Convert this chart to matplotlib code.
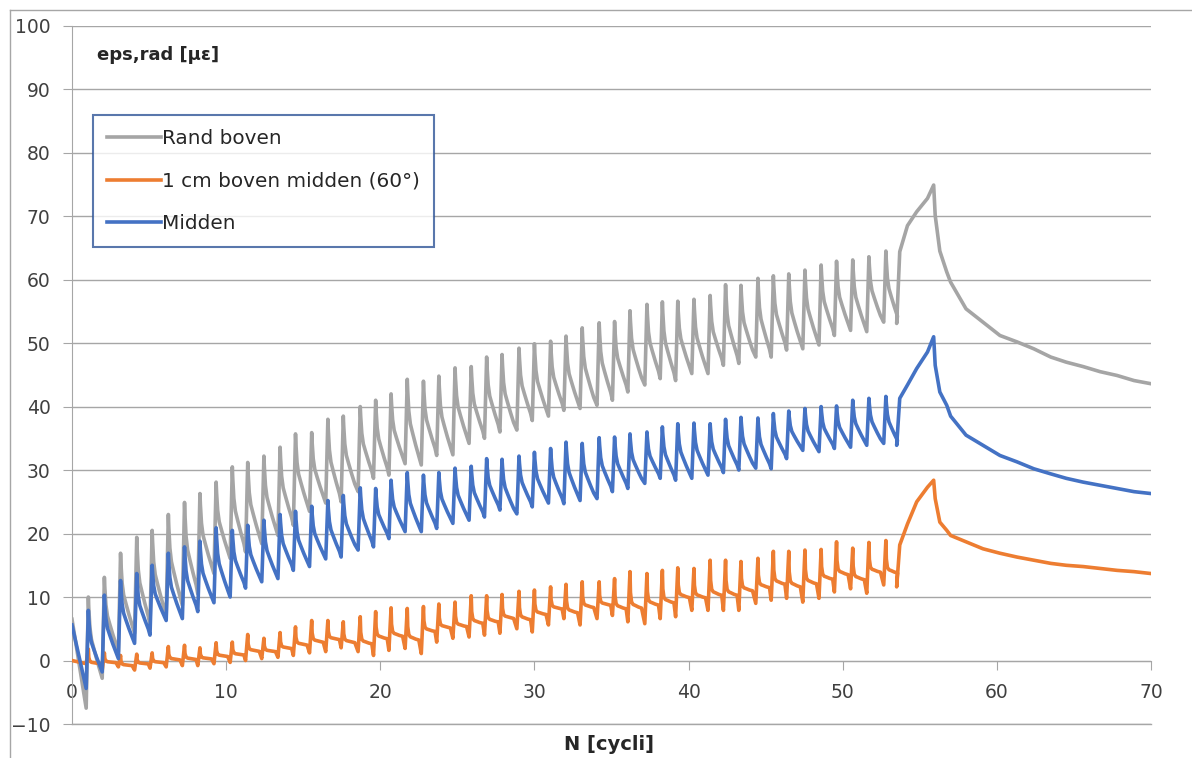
import numpy as np
import matplotlib.pyplot as plt
from matplotlib.lines import Line2D

plt.rcParams['font.family'] = ['DejaVu Sans']

# cycle peaks (load pulses) and the minimum just before each pulse
spike_n = [1.06, 2.1, 3.15, 4.2, 5.2, 6.25, 7.3, 8.3, 9.35, 10.4,
           11.4, 12.45, 13.5, 14.5, 15.55, 16.6, 17.6, 18.7, 19.7, 20.7,
           21.75, 22.8, 23.8, 24.85, 25.9, 26.9, 27.9, 29.0, 30.0, 31.05,
           32.05, 33.1, 34.2, 35.2, 36.2, 37.3, 38.3, 39.3, 40.35, 41.4,
           42.4, 43.4, 44.5, 45.5, 46.5, 47.55, 48.6, 49.6, 50.65, 51.7, 52.8]

rand_peak = [10.0, 13.1, 16.9, 19.4, 20.5, 23.0, 24.9, 26.3, 28.1, 30.5,
             31.2, 32.2, 33.6, 35.7, 35.9, 38.0, 38.5, 40.0, 41.0, 42.0,
             44.3, 44.0, 44.8, 46.1, 46.3, 47.8, 48.2, 49.2, 49.9, 50.3,
             51.1, 52.4, 53.2, 53.4, 55.1, 56.1, 56.5, 56.6, 56.9, 57.5,
             59.2, 59.1, 60.2, 60.6, 60.9, 61.5, 62.3, 62.9, 63.1, 63.6, 64.5]
rand_low = [-7.5, -2.8, 1.4, 4.3, 5.6, 7.1, 8.7, 10.5, 13.7, 16.1,
            17.1, 18.4, 19.7, 21.3, 23.5, 24.8, 25.0, 26.6, 28.7, 29.2,
            31.0, 30.8, 32.3, 32.4, 34.2, 35.0, 36.0, 36.3, 37.8, 38.5,
            39.4, 39.7, 40.2, 41.0, 42.3, 43.4, 44.4, 44.1, 45.2, 45.2,
            46.5, 46.8, 47.8, 47.8, 48.9, 49.1, 49.7, 51.2, 52.0, 51.8, 53.3]

midden_peak = [7.9, 10.3, 12.6, 13.7, 15.0, 16.9, 17.9, 18.8, 20.9, 20.5,
               21.3, 22.1, 23.0, 23.5, 24.3, 25.2, 26.0, 27.2, 27.1, 28.4,
               29.6, 29.2, 29.6, 30.3, 30.6, 31.8, 31.7, 32.2, 32.8, 33.4,
               34.4, 34.2, 35.1, 35.2, 35.7, 36.0, 36.8, 37.3, 37.4, 37.3,
               38.0, 38.3, 38.2, 38.9, 39.3, 39.7, 40.0, 40.1, 41.0, 41.3, 41.6]
midden_low = [-4.4, -1.8, 0.3, 2.7, 4.0, 6.3, 6.6, 7.7, 9.1, 10.0,
              11.4, 12.4, 12.9, 14.2, 14.8, 16.0, 16.3, 17.4, 17.9, 19.2,
              20.3, 20.3, 20.8, 21.6, 22.1, 22.6, 23.7, 23.1, 24.2, 24.8,
              24.7, 25.2, 25.5, 26.6, 27.1, 27.9, 28.7, 28.4, 28.7, 29.2,
              29.6, 30.0, 30.3, 30.2, 31.8, 33.1, 32.9, 33.4, 33.6, 33.9, 34.2]

cm1_peak = [1.8, 1.2, 0.8, 1.0, 1.2, 2.2, 2.4, 2.0, 2.8, 2.9,
            4.1, 3.5, 4.4, 5.3, 6.3, 6.3, 6.1, 6.9, 7.7, 8.3,
            8.2, 8.5, 8.9, 9.2, 10.2, 10.2, 10.4, 10.9, 11.1, 11.6,
            12.0, 12.4, 12.4, 12.9, 14.0, 13.7, 14.2, 14.6, 14.5, 15.8,
            15.8, 15.6, 16.1, 17.2, 17.2, 17.4, 17.5, 18.7, 17.7, 18.6, 18.9]
cm1_low = [-0.5, -1.5, -1.0, -1.5, -1.2, -1.0, -0.8, -0.8, -0.5, -0.3,
           0.0, 0.3, 0.5, 0.8, 1.2, 1.4, 2.0, 1.4, 0.8, 1.6,
           1.9, 1.1, 2.9, 3.5, 3.7, 4.0, 4.3, 5.0, 4.5, 5.6,
           6.6, 5.6, 6.6, 7.1, 6.1, 5.8, 6.6, 6.9, 7.9, 7.9,
           7.9, 7.9, 9.0, 9.5, 9.8, 9.2, 9.8, 10.8, 11.3, 10.6, 11.9]

# start values at N = 0
start_vals = {'rand': 6.5, 'cm1': 0.0, 'midden': 5.6}

# static hold after the last pulse, creep and recovery
tail_n = [53.5, 53.7, 54.2, 54.8, 55.5, 55.9, 56.0, 56.3, 56.75, 57.0,
          58.0, 59.1, 60.2, 61.3, 62.4, 63.5, 64.5, 65.6, 66.7, 67.8, 68.9, 70.0]
rand_tail = [53.1, 64.4, 68.5, 70.7, 72.8, 74.9, 70.1, 64.5, 61.2, 59.6,
             55.4, 53.3, 51.2, 50.2, 49.1, 47.8, 47.0, 46.3, 45.5, 44.9, 44.1, 43.6]
midden_tail = [33.9, 41.3, 43.4, 46.0, 48.6, 51.0, 46.5, 42.3, 40.2, 38.5,
               35.5, 33.9, 32.3, 31.3, 30.2, 29.4, 28.7, 28.1, 27.6, 27.1, 26.6, 26.3]
cm1_tail = [11.6, 18.2, 21.5, 25.0, 27.3, 28.4, 25.5, 21.8, 20.5, 19.7,
            18.7, 17.6, 16.9, 16.3, 15.8, 15.3, 15.0, 14.8, 14.5, 14.2, 14.0, 13.7]

# shape of one pulse: rise time and relaxation after the peak
rise = 0.14
decay_dn = [0.03, 0.1, 0.2, 0.35, 0.55, 0.75]
decay_smooth = [0.86, 0.63, 0.48, 0.37, 0.23, 0.1]
decay_sharp = [0.6, 0.42, 0.37, 0.35, 0.32, 0.3]


def build_series(y0, lows, peaks, tail, profile):
    xs = [0.0]
    ys = [y0]
    for k in range(len(spike_n)):
        xs += [spike_n[k] - rise, spike_n[k]]
        ys += [lows[k], peaks[k]]
        nxt = lows[k + 1] if k + 1 < len(lows) else tail[0]
        for dn, f in zip(decay_dn, profile):
            xs.append(spike_n[k] + dn)
            ys.append(nxt + f * (peaks[k] - nxt))
    xs += tail_n
    ys += tail
    return np.array(xs), np.array(ys)


fig = plt.figure(figsize=(11.92, 7.58), dpi=100)
W, H = 1192, 758
ax = fig.add_axes([72 / W, 1 - 724 / H, (1151 - 72) / W, (724 - 25.7) / H])

grid_col = '#A6A6A6'
text_col = '#404040'

n_r, y_r = build_series(start_vals['rand'], rand_low, rand_peak, rand_tail, decay_smooth)
n_c, y_c = build_series(start_vals['cm1'], cm1_low, cm1_peak, cm1_tail, decay_sharp)
n_m, y_m = build_series(start_vals['midden'], midden_low, midden_peak, midden_tail, decay_smooth)

lw = 2.6
ax.plot(n_r, y_r, color='#A5A5A5', lw=lw, label='Rand boven', zorder=3)
ax.plot(n_c, y_c, color='#ED7D31', lw=lw, label='1 cm boven midden (60°)', zorder=4)
ax.plot(n_m, y_m, color='#4472C4', lw=lw, label='Midden', zorder=5)

ax.set_xlim(0, 70)
ax.set_ylim(-10, 100)
ax.set_xticks(np.arange(0, 71, 10))
ax.set_yticks(np.arange(-10, 101, 10))
ax.grid(axis='y', color=grid_col, lw=1)
ax.axhline(-10, color=grid_col, lw=1, clip_on=False, zorder=1)
ax.set_axisbelow(True)

for s in ['top', 'right']:
    ax.spines[s].set_visible(False)
ax.spines['left'].set_color(grid_col)
ax.spines['bottom'].set_color(grid_col)
ax.spines['bottom'].set_position(('data', 0))
ax.tick_params(axis='y', length=6.5, color=grid_col, pad=9, labelsize=13.5, labelcolor=text_col)
ax.tick_params(axis='x', length=6.5, color=grid_col, pad=10, labelsize=13.5, labelcolor=text_col)

fig.text(97 / W, 1 - 55 / H, 'eps,rad [µε]', fontsize=13,
         fontweight='bold', color='#262626', va='center', ha='left')
fig.text(609 / W, 1 - 745 / H, 'N [cycli]', fontsize=14, fontweight='bold',
         color='#262626', va='center', ha='center')

leg = ax.legend(loc='upper left', bbox_to_anchor=(93 / W, 1 - 115 / H),
                bbox_transform=fig.transFigure, fontsize=14.4, frameon=True,
                fancybox=False, handlelength=2.7, handletextpad=0.05,
                labelspacing=1.18, borderpad=0.7, borderaxespad=0)
leg.get_frame().set_edgecolor('#2F5597')
leg.get_frame().set_linewidth(1.5)
for t in leg.get_texts():
    t.set_color('#262626')

# chart area border
fig.add_artist(Line2D([10 / W, 10 / W], [0, 1 - 10 / H], transform=fig.transFigure,
                      color=grid_col, lw=1))
fig.add_artist(Line2D([10 / W, 1], [1 - 10 / H, 1 - 10 / H], transform=fig.transFigure,
                      color=grid_col, lw=1))

fig.savefig('out.png', dpi=100)
